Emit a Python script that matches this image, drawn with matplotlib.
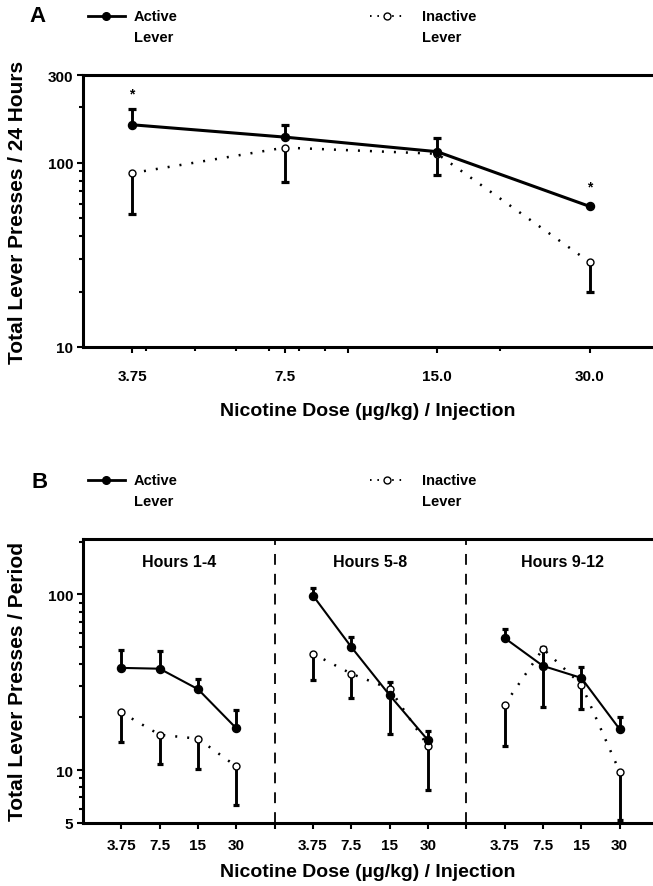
import numpy as np
import matplotlib
matplotlib.use('Agg')
import matplotlib.pyplot as plt
from matplotlib.lines import Line2D
from matplotlib.ticker import FixedLocator, NullFormatter

plt.rcParams['font.family'] = ['Liberation Sans', 'DejaVu Sans']
plt.rcParams['font.weight'] = 'bold'
plt.rcParams['axes.labelweight'] = 'bold'

W, H = 653, 887

# Panel A: total presses over 24 h
doses_a = [3.75, 7.5, 15.0, 30.0]
dose_labels_a = ['3.75', '7.5', '15.0', '30.0']
active_a = [161, 138, 115, 58]
active_a_hi = [197, 161, 137, 58]
inactive_a = [88, 121, 112, 28.9]
inactive_a_lo = [52.6, 79, 86, 20]
stars_a = [3.75, 30.0]

# Panel B: presses per 4-hour period
periods = ['Hours 1-4', 'Hours 5-8', 'Hours 9-12']
dose_labels_b = ['3.75', '7.5', '15', '30']
active_b = [[38.2, 37.8, 28.9, 17.3], [98.6, 50.2, 26.7, 14.8], [56.5, 39.2, 33.5, 17.1]]
active_b_hi = [[48, 47.4, 32.9, 21.9], [108.7, 57.3, 31.8, 16.7], [63.3, 50.2, 38.7, 20.1]]
inactive_b = [[21.3, 15.9, 15.1, 10.5], [46, 35.4, 29.1, 13.7], [23.6, 49.1, 30.7, 9.8]]
inactive_b_lo = [[14.4, 10.9, 10.1, 6.3], [32.5, 25.8, 16, 7.7], [13.8, 22.9, 22.4, 5.2]]


def fx(x):
    return x / W


def fy(y):
    return 1 - y / H


def draw_bars(ax, x, y0, y1, capw=6):
    ax.vlines(x, y0, y1, color='k', lw=2.1, zorder=2)
    ax.plot(x, y1, ls='none', marker='_', ms=capw, mew=2.3, color='k', zorder=2)


def draw_series(ax, x, act, inact, lw_act):
    ax.plot(x, inact, color='k', lw=1.8, ls=(0, (0.8, 4)), marker='o', ms=5,
            mfc='white', mec='k', mew=1.0, zorder=3)
    ax.plot(x, act, color='k', lw=lw_act, ls='-', marker='o', ms=5.8,
            mfc='k', mec='k', zorder=4)


def legend_row(y, label_x):
    # active: solid line with filled dot
    fig.add_artist(Line2D([fx(88), fx(106), fx(125)], [fy(y)] * 3, color='k', lw=2,
                          marker='o', ms=5.5, markevery=[1], mfc='k'))
    fig.text(fx(134), fy(y), 'Active', fontsize=10.5, va='center', ha='left')
    fig.text(fx(134), fy(y + 21), 'Lever', fontsize=10.5, va='center', ha='left')
    # inactive: dotted line with open dot
    fig.add_artist(Line2D([fx(370), fx(387), fx(404)], [fy(y)] * 3, color='k', lw=1.4,
                          ls=(0, (0.8, 3)), marker='o', ms=5, markevery=[1], mfc='white', mew=1.0))
    fig.text(fx(label_x), fy(y), 'Inactive', fontsize=10.5, va='center', ha='left')
    fig.text(fx(label_x), fy(y + 21), 'Lever', fontsize=10.5, va='center', ha='left')


def style_axes(ax):
    for side in ['left', 'bottom', 'top']:
        ax.spines[side].set_linewidth(2.2)
    ax.spines['right'].set_visible(False)
    ax.tick_params(which='both', direction='out', width=1.5, labelsize=11)
    ax.tick_params(which='major', length=4)
    ax.tick_params(which='minor', length=3)


fig = plt.figure(figsize=(W / 100, H / 100), dpi=100)

# ---------- Panel A ----------
axA = fig.add_axes([fx(83), fy(348), 1 - fx(83), (348 - 76) / H])
axA.set_xscale('log')
axA.set_yscale('log')
axA.set_xlim(3.0, 40.0)
axA.set_ylim(10, 300)

for x, v, hi in zip(doses_a, active_a, active_a_hi):
    if hi > v:
        draw_bars(axA, x, v, hi)
for x, v, lo in zip(doses_a, inactive_a, inactive_a_lo):
    draw_bars(axA, x, v, lo)
draw_series(axA, doses_a, active_a, inactive_a, 2.2)

for x in stars_a:
    i = doses_a.index(x)
    top = max(active_a[i], active_a_hi[i])
    axA.annotate('*', (x, top), xytext=(0, 6 if top > active_a[i] else 9),
                 textcoords='offset points', ha='center', va='bottom', fontsize=10)

style_axes(axA)
axA.xaxis.set_major_locator(FixedLocator([3.75, 7.5, 10, 15, 30]))
axA.set_xticklabels(dose_labels_a[:2] + [''] + dose_labels_a[2:])
axA.xaxis.set_minor_locator(FixedLocator([4, 5, 6, 7, 8, 9, 20]))
axA.xaxis.set_minor_formatter(NullFormatter())
axA.xaxis.get_major_ticks()[2].tick1line.set_markersize(7)
axA.tick_params(axis='x', which='major', pad=12)
axA.yaxis.set_major_locator(FixedLocator([10, 100, 300]))
axA.set_yticklabels(['10', '100', '300'])
axA.yaxis.set_minor_locator(FixedLocator([20, 30, 40, 50, 60, 70, 80, 90, 200]))
axA.yaxis.set_minor_formatter(NullFormatter())
axA.tick_params(axis='y', pad=3)

axA.set_xlabel('Nicotine Dose (\u00b5g/kg) / Injection', fontsize=14)
axA.xaxis.set_label_coords(0.5, -(403 - 348) / 272)
axA.set_ylabel('Total Lever Presses / 24 Hours', fontsize=15)
axA.yaxis.set_label_coords(-(83 - 27) / 570, 0.5)

fig.text(fx(37), fy(17), 'A', fontsize=16, ha='center', va='center')
legend_row(17, 422)

# ---------- Panel B ----------
axB = fig.add_axes([fx(83), fy(824), 1 - fx(83), (824 - 540) / H])
axB.set_yscale('log')
axB.set_xlim(-1, 13.87)
axB.set_ylim(5, 207)

xpos_all = []
for g, name in enumerate(periods):
    xs = [g * 5 + i for i in range(4)]
    xpos_all += xs
    for x, v, hi in zip(xs, active_b[g], active_b_hi[g]):
        draw_bars(axB, x, v, hi, capw=5)
    for x, v, lo in zip(xs, inactive_b[g], inactive_b_lo[g]):
        draw_bars(axB, x, v, lo, capw=5)
    draw_series(axB, xs, active_b[g], inactive_b[g], 1.5)
    axB.text(g * 5 + 1.5, 0.922, name, transform=axB.get_xaxis_transform(),
             ha='center', va='center', fontsize=11.5)
    if g > 0:
        axB.axvline(g * 5 - 1, color='k', lw=1.3, ls=(0, (6, 5)), zorder=1)

style_axes(axB)
axB.set_xticks(xpos_all)
axB.set_xticklabels(dose_labels_b * 3)
axB.xaxis.set_minor_locator(FixedLocator([4, 9]))
axB.tick_params(axis='x', which='both', length=4, pad=7)
axB.yaxis.set_major_locator(FixedLocator([5, 10, 100]))
axB.set_yticklabels(['5', '10', '100'])
axB.yaxis.set_minor_locator(FixedLocator([6, 7, 8, 9, 20, 30, 40, 50, 60, 70, 80, 90, 200]))
axB.yaxis.set_minor_formatter(NullFormatter())
axB.tick_params(axis='y', pad=3)

axB.set_xlabel('Nicotine Dose (\u00b5g/kg) / Injection', fontsize=14)
axB.xaxis.set_label_coords(0.5, -(864 - 824) / 284)
axB.set_ylabel('Total Lever Presses / Period', fontsize=15)
axB.yaxis.set_label_coords(-(83 - 27) / 570, 0.5)

fig.text(fx(40), fy(482), 'B', fontsize=16, ha='center', va='center')
legend_row(481, 422)

fig.savefig('out.png', dpi=100)
